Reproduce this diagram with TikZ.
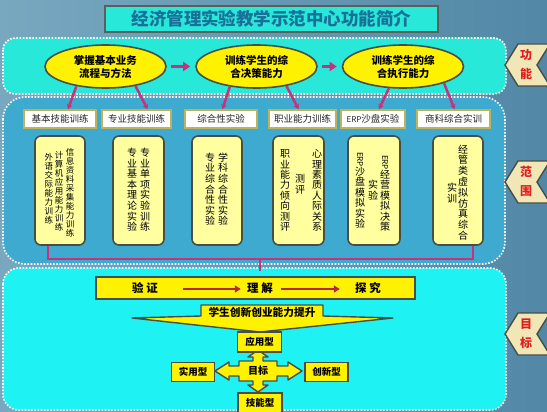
\documentclass[tikz,border=0pt]{standalone}
\usepackage{fontspec}
\usepackage{graphicx}
\setmainfont{Noto Sans CJK SC}
\usetikzlibrary{shapes.geometric,arrows.meta,calc}
\definecolor{bgL}{RGB}{120,168,192}
\definecolor{bgR}{RGB}{82,136,166}
\definecolor{cyanTop}{RGB}{40,232,218}
\definecolor{midBlue}{RGB}{62,170,208}
\definecolor{cyanBot}{RGB}{30,242,242}
\definecolor{titleTx}{RGB}{25,112,152}
\definecolor{darkEdge}{RGB}{70,78,70}
\definecolor{hdrEdge}{RGB}{190,178,90}
\definecolor{paleY}{RGB}{255,255,160}
\definecolor{mag}{RGB}{200,50,125}
\definecolor{barArr}{RGB}{180,40,70}
\definecolor{chevFill}{RGB}{240,230,182}
\definecolor{chevTx}{RGB}{225,30,30}
\makeatletter
\newcommand\vcol[2]{\vbox{\offinterlineskip\@tfor\vc@c:=#2\do{\hbox to 1em{\hss\vrule width0pt height.8\dimexpr#1\relax depth.2\dimexpr#1\relax\vc@c\hss}}}}
\makeatother
\newcommand\erp{\rotatebox[origin=c]{-90}{\fontsize{8}{9}\selectfont ERP}}
\begin{document}
\begin{tikzpicture}[x=1pt,y=-1pt,
  panel/.style={draw=white, line width=1.6pt, dash pattern=on 1.6pt off 1.6pt},
  ell/.style={ellipse, draw=darkEdge, line width=1.6pt, fill=yellow, minimum width=121pt, minimum height=43pt, inner sep=0pt, align=center, font=\bfseries\fontsize{10.5}{13}\selectfont},
  hdr/.style={rectangle, draw=hdrEdge, line width=1.6pt, fill=white, minimum height=18pt, inner sep=0pt, font=\fontsize{9.5}{11}\selectfont, text=black!85},
  cbox/.style={rectangle, rounded corners=6pt, draw=darkEdge, line width=1.6pt, fill=paleY, minimum height=109pt, inner sep=0pt},
  colA/.style={inner sep=0pt, font=\fontsize{10}{12}\selectfont},
  colS/.style={inner sep=0pt, font=\fontsize{8.5}{10}\selectfont},
  conn/.style={draw=mag, line width=2.5pt, -{Stealth[length=5pt,width=6pt]}},
  bigarr/.style={draw=mag, line width=3.5pt, -{Triangle[length=7pt,width=9pt]}, shorten <=4pt, shorten >=5pt},
  brk/.style={draw=mag, line width=2pt},
  barrow/.style={draw=barArr, line width=2.5pt, -{Triangle[length=6pt,width=7pt]}},
  ybox/.style={rectangle, draw=darkEdge, line width=1.6pt, fill=yellow, inner sep=0pt, font=\bfseries\fontsize{9.5}{11}\selectfont},
  chev/.style={fill=chevFill, draw=darkEdge, line width=1.4pt},
  chevtxt/.style={text=chevTx, font=\bfseries\fontsize{12}{14}\selectfont, inner sep=0pt}
]
\useasboundingbox (0,0) rectangle (547,412);
\shade[left color=bgL, right color=bgR] (0,0) rectangle (547,412);

% title
\node[draw=darkEdge!90, line width=2.4pt, fill=cyanTop, minimum width=333pt, minimum height=26pt, inner sep=0pt,
      text=titleTx, font=\bfseries\fontsize{17.5}{20}\selectfont] (title) at (271.5,19) {经济管理实验教学示范中心功能简介};

% panels
\path[panel, fill=midBlue, rounded corners=22pt] (3,97) rectangle (505,264);
\path[panel, fill=cyanTop, rounded corners=12pt] (3,38) rectangle (506,94);
\path[panel, fill=cyanBot, rounded corners=16pt] (3,268) rectangle (506,410);

% chevron tags
\draw[chev] (505,65) -- (518,44) -- (550,44) -- (537,65) -- (550,86) -- (518,86) -- cycle;
\node[chevtxt] (t1a) at (526,55) {功};
\node[chevtxt] (t1b) at (526,74) {能};
\draw[chev] (505,182) -- (518,161) -- (550,161) -- (537,182) -- (550,203) -- (518,203) -- cycle;
\node[chevtxt] (t2a) at (526,172) {范};
\node[chevtxt] (t2b) at (526,191) {围};
\draw[chev] (505,334) -- (518,313) -- (550,313) -- (537,334) -- (550,355) -- (518,355) -- cycle;
\node[chevtxt] (t3a) at (526,324) {目};
\node[chevtxt] (t3b) at (526,343) {标};

% ellipses
\node[ell] (e1) at (105.5,66.5) {掌握基本业务\\流程与方法};
\node[ell] (e2) at (256.5,66.5) {训练学生的综\\合决策能力};
\node[ell] (e3) at (403,66.5) {训练学生的综\\合执行能力};
\draw[bigarr] (e1) -- (e2);
\draw[bigarr] (e2) -- (e3);

% headers
\node[hdr, minimum width=72pt] (h1) at (60,119) {基本技能训练};
\node[hdr, minimum width=69pt] (h2) at (136.5,119) {专业技能训练};
\node[hdr, minimum width=72pt] (h3) at (221,119) {综合性实验};
\node[hdr, minimum width=67pt] (h4) at (302.5,119) {职业能力训练};
\node[hdr, minimum width=64pt] (h5) at (373,119) {{\fontsize{8}{10}\selectfont ERP}沙盘实验};
\node[hdr, minimum width=73pt] (h6) at (453.5,119) {商科综合实训};

% connectors ellipse -> headers
\draw[conn] (e1.214) -- ($(h1.north)+(8,0)$);
\draw[conn] (e1.327) -- ($(h2.north)+(11,0)$);
\draw[conn] (e2.217) -- ($(h3.north)+(1.5,0)$);
\draw[conn] (e2.327) -- ($(h4.north)+(-4,0)$);
\draw[conn] (e3.237) -- ($(h5.north)+(6,0)$);
\draw[conn] (e3.338) -- ($(h6.north)+(1,0)$);

% content boxes
\node[cbox, minimum width=50pt] (b1) at (60,190.5) {};
\node[cbox, minimum width=51pt] (b2) at (138.5,190.5) {};
\node[cbox, minimum width=50pt] (b3) at (217,190.5) {};
\node[cbox, minimum width=51pt] (b4) at (298.5,190.5) {};
\node[cbox, minimum width=52pt] (b5) at (374,190.5) {};
\node[cbox, minimum width=50pt] (b6) at (458,190.5) {};

\node[colS] (c1a) at (70,193) {\vcol{9pt}{信息资料采集能力训练}};
\node[colS] (c1b) at (59,191.5) {\vcol{9pt}{计算机应用能力训练}};
\node[colS] (c1c) at (49,189) {\vcol{9pt}{外语交际能力训练}};
\node[colA] (c2a) at (145,190.5) {\vcol{10.6pt}{专业单项实验训练}};
\node[colA] (c2b) at (132,190.5) {\vcol{10.6pt}{专业基本理论实验}};
\node[colA] (c3a) at (223,190) {\vcol{10.6pt}{学科综合性实验}};
\node[colA] (c3b) at (210,190) {\vcol{10.6pt}{专业综合性实验}};
\node[colA] (c4a) at (317,191) {\vcol{10.3pt}{心理素质人际关系}};
\node[colA] (c4b) at (300,185) {\vcol{10.3pt}{测评}};
\node[colA] (c4c) at (285,191) {\vcol{10.3pt}{职业能力倾向测评}};
\node[colA] (c5a) at (385,194) {\vcol{10.3pt}{{\erp}经营模拟决策}};
\node[colA] (c5b) at (373,191) {\vcol{10.3pt}{实验}};
\node[colA] (c5c) at (360,191) {\vcol{10.3pt}{{\erp}沙盘模拟实验}};
\node[colA] (c6a) at (463,193) {\vcol{10.8pt}{经管类虚拟仿真综合}};
\node[colA] (c6b) at (452,194) {\vcol{10.8pt}{实训}};

% bracket
\coordinate (jn) at (260,259);
\coordinate (jt) at (260,271);
\draw[brk] ($(b1.south)+(-12,0)$) |- (jn) -| ($(b6.south)+(15,0)$);
\draw[brk] (jn) -- (jt);

% bottom bar
\node[ybox, minimum width=319pt, minimum height=22pt] (bar) at (255.5,288) {};
\node[inner sep=0pt, font=\bfseries\fontsize{11.5}{13}\selectfont] (v1) at (145,288) {验\hspace{3pt}证};
\node[inner sep=0pt, font=\bfseries\fontsize{11.5}{13}\selectfont] (v2) at (260,288) {理\hspace{3pt}解};
\node[inner sep=0pt, font=\bfseries\fontsize{11.5}{13}\selectfont] (v3) at (368,288) {探\hspace{3pt}究};
\draw[barrow] ($(v1.east)+(25,1)$) -- ($(v2.west)+(-6,1)$);
\draw[barrow] ($(v2.east)+(8,1)$) -- ($(v3.west)+(-15,1)$);

% funnel
\draw[fill=yellow, draw=darkEdge, line width=1.4pt, line join=round]
  (201,305) -- (323,305) -- (323,316) -- (393,318) -- (260,332) -- (132,318) -- (201,316) -- cycle;
\node[inner sep=0pt, font=\bfseries\fontsize{10.7}{12}\selectfont] (fun) at (262,312) {学生创新创业能力提升};

% target cross
\draw[fill=yellow, draw=darkEdge, line width=1.4pt, line join=round]
  (239,361) -- (253,361) -- (253,357) -- (248,357) -- (258,350) -- (268,357) -- (263,357) -- (263,361)
  -- (277,361) -- (277,366) -- (288,366) -- (288,362) -- (302,371) -- (288,380) -- (288,376) -- (277,376)
  -- (277,381) -- (263,381) -- (263,385) -- (268,385) -- (258,392) -- (248,385) -- (253,385) -- (253,381)
  -- (239,381) -- (239,376) -- (229,376) -- (229,380) -- (215,371) -- (229,362) -- (229,366) -- (239,366) -- cycle;
\node[inner sep=0pt, font=\bfseries\fontsize{10}{12}\selectfont] (goal) at (258,371) {目标};
\node[ybox, minimum width=44pt, minimum height=20pt] (g1) at (259.5,342) {应用型};
\node[ybox, minimum width=43pt, minimum height=19pt] (g2) at (193,372) {实用型};
\node[ybox, minimum width=43pt, minimum height=19pt] (g3) at (326.5,372) {创新型};
\node[ybox, minimum width=44pt, minimum height=20pt] (g4) at (260,403) {技能型};
\end{tikzpicture}
\end{document}
